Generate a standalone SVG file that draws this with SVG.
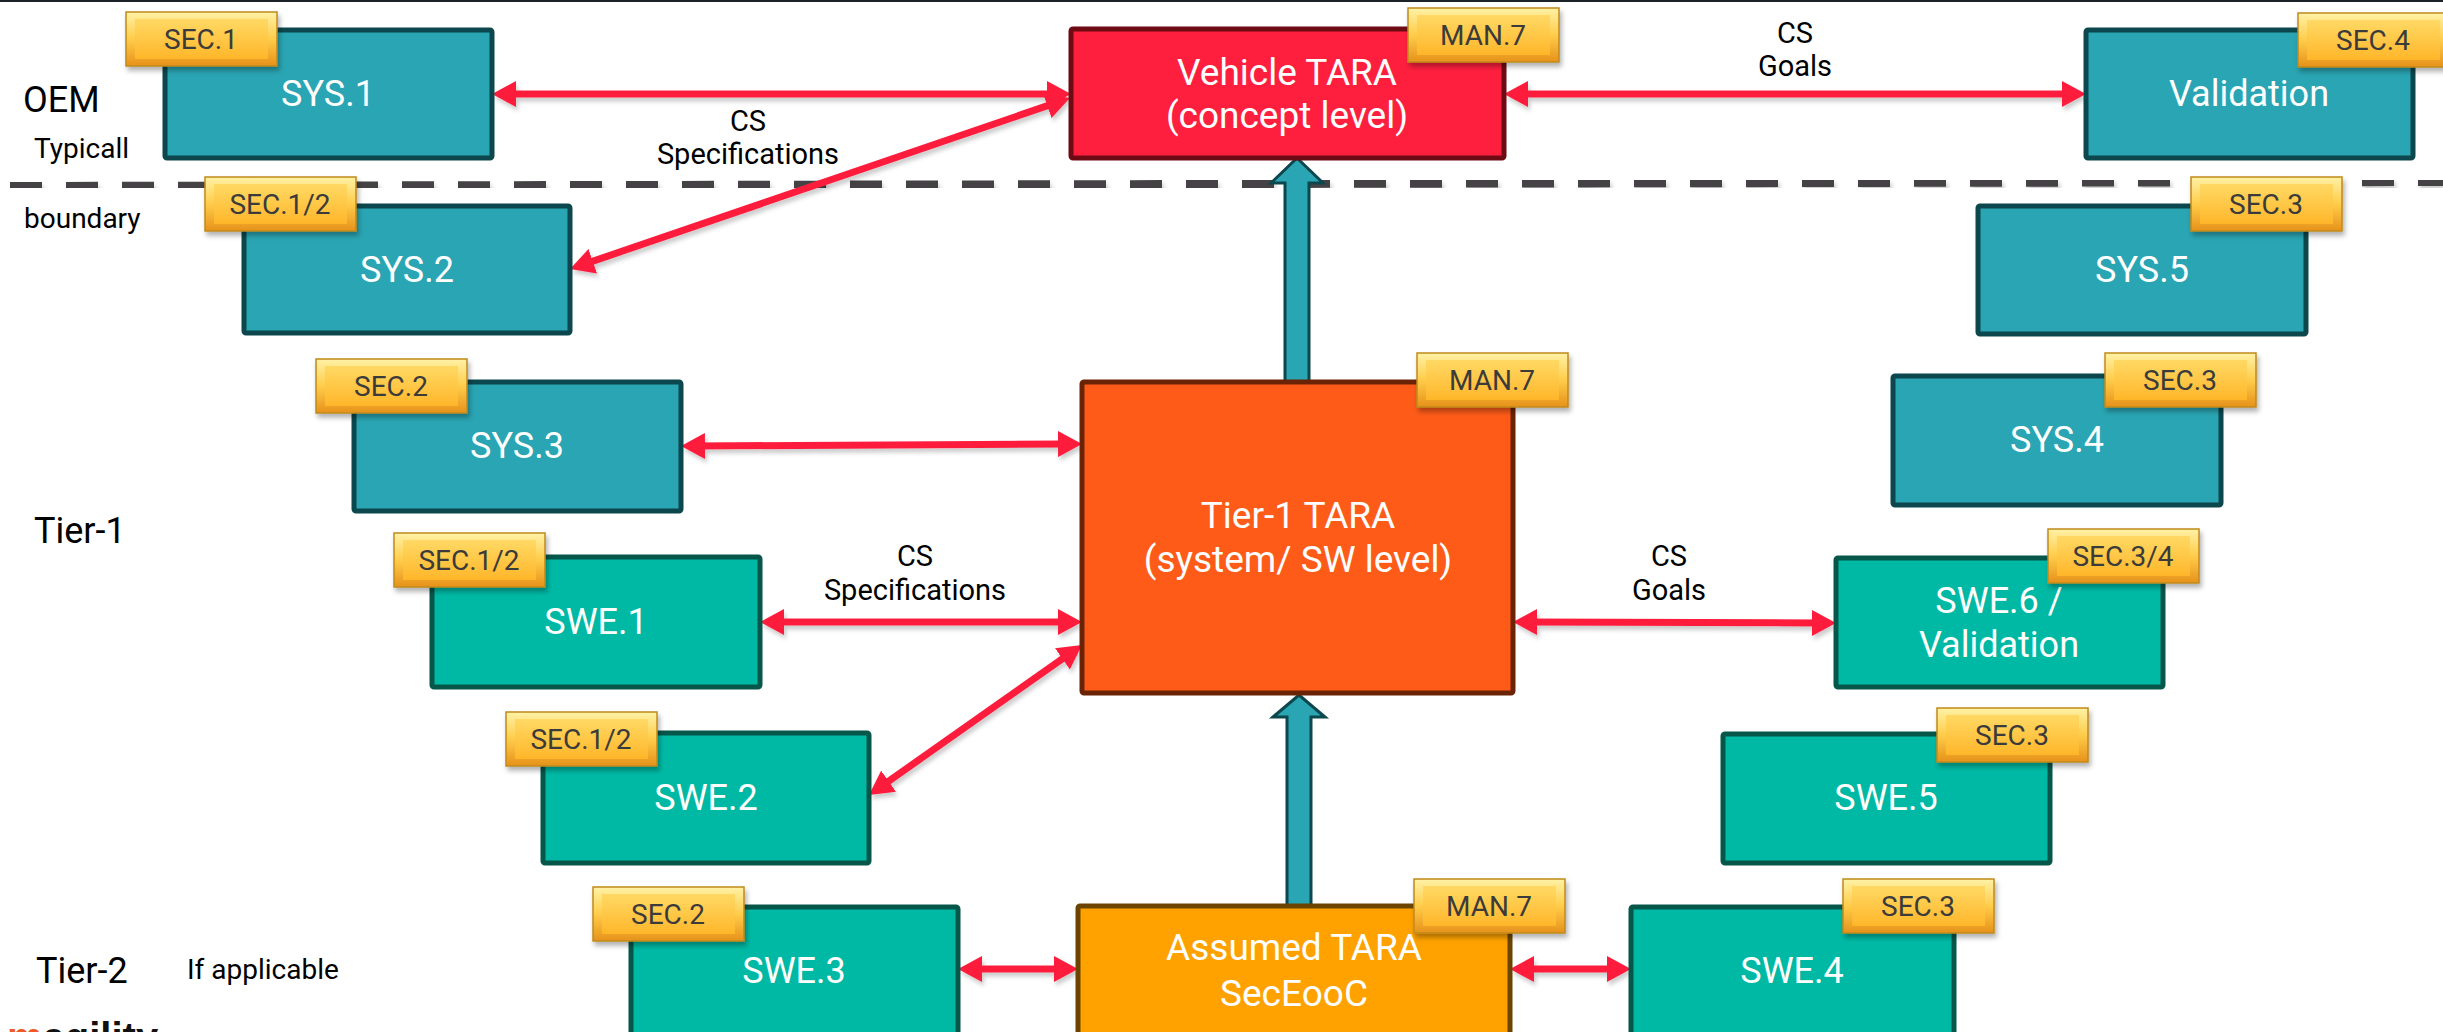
<svg xmlns="http://www.w3.org/2000/svg" width="2443" height="1032" viewBox="0 0 2443 1032">
<style>
  text { font-family: Roboto, "Liberation Sans", sans-serif; }
  .sys { fill: #2aa5b3; stroke: #0c474d; stroke-width: 5; }
  .swe { fill: #00b9a4; stroke: #07564a; stroke-width: 5; }
  .lbl { fill: #ffffff; font-size: 36px; text-anchor: middle; }
  .big { fill: #ffffff; font-size: 37px; text-anchor: middle; }
  .bt { fill: #3b3b3b; font-size: 28px; text-anchor: middle; }
  .side { fill: #000000; font-size: 29px; text-anchor: middle; }
  .tier { fill: #000000; font-size: 36px; }
  .note { fill: #000000; font-size: 28px; }
  .red { stroke: #fe1f3e; stroke-width: 7; fill: none; marker-start: url(#ah); marker-end: url(#ah); }
  .thick { fill: #2aa5b3; stroke: #0c474d; stroke-width: 3; stroke-linejoin: miter; }
  .bo { fill: url(#gOuter); stroke: #c08a1c; stroke-width: 1.5; }
  .bi { fill: url(#gInner); }
</style>
<defs>
  <linearGradient id="gOuter" x1="0" y1="0" x2="0" y2="1">
    <stop offset="0" stop-color="#fff2a6"/>
    <stop offset="0.5" stop-color="#ffcc4a"/>
    <stop offset="1" stop-color="#e6921a"/>
  </linearGradient>
  <linearGradient id="gInner" x1="0" y1="0" x2="0" y2="1">
    <stop offset="0" stop-color="#ffd964"/>
    <stop offset="1" stop-color="#ffb62a"/>
  </linearGradient>
  <filter id="sh" x="-10%" y="-30%" width="130%" height="180%">
    <feDropShadow dx="2" dy="4" stdDeviation="2.5" flood-color="#000" flood-opacity="0.3"/>
  </filter>
  <filter id="ash" x="-5%" y="-50%" width="110%" height="200%">
    <feDropShadow dx="2" dy="4" stdDeviation="2" flood-color="#000" flood-opacity="0.2"/>
  </filter>
  <marker id="ah" viewBox="0 -13 24 26" refX="12" refY="0" markerWidth="24" markerHeight="26" markerUnits="userSpaceOnUse" orient="auto-start-reverse">
    <path d="M0,-13 L24,0 L0,13 z" fill="#fe1f3e"/>
  </marker>
  <symbol id="badge" viewBox="0 0 151 54" overflow="visible">
    <rect class="bo" x="0" y="0" width="151" height="54"/>
    <rect class="bi" x="9" y="7" width="133" height="40"/>
  </symbol>
</defs>

<rect x="0" y="0" width="2443" height="1032" fill="#ffffff"/>
<line x1="0" y1="1" x2="2443" y2="1" stroke="#1c2328" stroke-width="2"/>

<!-- boundary dashed line -->
<g id="boundary" filter="url(#ash)">
  <line x1="10" y1="186" x2="2443" y2="182" stroke="#444244" stroke-width="8" stroke-dasharray="32 24"/>
</g>

<!-- side labels -->
<g id="labels">
  <text class="tier" x="23" y="112">OEM</text>
  <text class="note" x="34" y="158">Typicall</text>
  <text class="note" x="24" y="228">boundary</text>
  <text class="tier" x="34" y="543">Tier-1</text>
  <text class="tier" x="36" y="983">Tier-2</text>
  <text class="note" x="187" y="979">If applicable</text>
  <text x="7" y="1051" font-size="40" font-weight="bold" style="font-family:'Liberation Sans', Arial, sans-serif"><tspan fill="#f05a28">m</tspan><tspan fill="#111">agility</tspan></text>
</g>

<!-- connectors -->
<g id="connectors">
  <g filter="url(#ash)">
    <line class="red" x1="504" y1="94" x2="1059" y2="94"/>
    <line class="red" x1="581.4" y1="265.1" x2="1058.6" y2="101.9"/>
    <line class="red" x1="1516" y1="94" x2="2074" y2="94"/>
    <line class="red" x1="693" y1="446" x2="1070" y2="444"/>
    <line class="red" x1="772" y1="622" x2="1070" y2="622"/>
    <line class="red" x1="878.8" y1="788.1" x2="1072.2" y2="651.9"/>
    <line class="red" x1="1525" y1="622" x2="1824" y2="623"/>
    <line class="red" x1="970" y1="969" x2="1066" y2="969"/>
    <line class="red" x1="1522" y1="969" x2="1619" y2="969"/>
  </g>
  <polygon class="thick" points="1285,382 1285,183 1271,183 1297,158 1323,183 1309,183 1309,382"/>
  <polygon class="thick" points="1287,906 1287,717 1273,717 1299,695 1325,717 1311,717 1311,906"/>
  <text class="side" x="748" y="131">CS</text>
  <text class="side" x="748" y="164">Specifications</text>
  <text class="side" x="1795" y="43">CS</text>
  <text class="side" x="1795" y="76">Goals</text>
  <text class="side" x="915" y="566">CS</text>
  <text class="side" x="915" y="600">Specifications</text>
  <text class="side" x="1669" y="566">CS</text>
  <text class="side" x="1669" y="600">Goals</text>
</g>

<!-- left side nodes -->
<g id="sys1">
  <rect class="sys" x="165" y="30" width="327" height="128" rx="2"/>
  <text class="lbl" x="328" y="106">SYS.1</text>
  <g filter="url(#sh)"><use href="#badge" x="126" y="12" width="151" height="54"/></g>
  <text class="bt" x="201" y="49">SEC.1</text>
</g>
<g id="sys2">
  <rect class="sys" x="244" y="206" width="326" height="127" rx="2"/>
  <text class="lbl" x="407" y="282">SYS.2</text>
  <g filter="url(#sh)"><use href="#badge" x="205" y="177" width="151" height="54"/></g>
  <text class="bt" x="280" y="214">SEC.1/2</text>
</g>
<g id="sys3">
  <rect class="sys" x="354" y="382" width="327" height="129" rx="2"/>
  <text class="lbl" x="517" y="458">SYS.3</text>
  <g filter="url(#sh)"><use href="#badge" x="316" y="359" width="151" height="54"/></g>
  <text class="bt" x="391" y="396">SEC.2</text>
</g>
<g id="swe1">
  <rect class="swe" x="432" y="557" width="328" height="130" rx="2"/>
  <text class="lbl" x="596" y="634">SWE.1</text>
  <g filter="url(#sh)"><use href="#badge" x="394" y="533" width="151" height="54"/></g>
  <text class="bt" x="469" y="570">SEC.1/2</text>
</g>
<g id="swe2">
  <rect class="swe" x="543" y="733" width="326" height="130" rx="2"/>
  <text class="lbl" x="706" y="810">SWE.2</text>
  <g filter="url(#sh)"><use href="#badge" x="506" y="712" width="151" height="54"/></g>
  <text class="bt" x="581" y="749">SEC.1/2</text>
</g>
<g id="swe3">
  <rect class="swe" x="631" y="907" width="327" height="140" rx="2"/>
  <text class="lbl" x="794" y="983">SWE.3</text>
  <g filter="url(#sh)"><use href="#badge" x="593" y="887" width="151" height="54"/></g>
  <text class="bt" x="668" y="924">SEC.2</text>
</g>

<!-- centre nodes -->
<g id="vehicle-tara">
  <rect x="1071" y="29" width="433" height="129" rx="2" fill="#fe1f3e" stroke="#6d0a14" stroke-width="5"/>
  <text class="big" x="1287" y="85">Vehicle TARA</text>
  <text class="big" x="1287" y="128">(concept level)</text>
  <g filter="url(#sh)"><use href="#badge" x="1408" y="8" width="151" height="54"/></g>
  <text class="bt" x="1483" y="45">MAN.7</text>
</g>
<g id="tier1-tara">
  <rect x="1082" y="382" width="431" height="311" rx="2" fill="#fe5b19" stroke="#6b2306" stroke-width="5"/>
  <text class="big" x="1298" y="528">Tier-1 TARA</text>
  <text class="big" x="1298" y="572">(system/ SW level)</text>
  <g filter="url(#sh)"><use href="#badge" x="1417" y="353" width="151" height="54"/></g>
  <text class="bt" x="1492" y="390">MAN.7</text>
</g>
<g id="assumed-tara">
  <rect x="1078" y="906" width="432" height="140" rx="2" fill="#ffa200" stroke="#6b4500" stroke-width="5"/>
  <text class="big" x="1294" y="960">Assumed TARA</text>
  <text class="big" x="1294" y="1006">SecEooC</text>
  <g filter="url(#sh)"><use href="#badge" x="1414" y="879" width="151" height="54"/></g>
  <text class="bt" x="1489" y="916">MAN.7</text>
</g>

<!-- right side nodes -->
<g id="validation">
  <rect class="sys" x="2086" y="30" width="327" height="128" rx="2"/>
  <text class="lbl" x="2249" y="106">Validation</text>
  <g filter="url(#sh)"><use href="#badge" x="2298" y="13" width="151" height="54"/></g>
  <text class="bt" x="2373" y="50">SEC.4</text>
</g>
<g id="sys5">
  <rect class="sys" x="1978" y="206" width="328" height="128" rx="2"/>
  <text class="lbl" x="2142" y="282">SYS.5</text>
  <g filter="url(#sh)"><use href="#badge" x="2191" y="177" width="151" height="54"/></g>
  <text class="bt" x="2266" y="214">SEC.3</text>
</g>
<g id="sys4">
  <rect class="sys" x="1893" y="376" width="328" height="129" rx="2"/>
  <text class="lbl" x="2057" y="452">SYS.4</text>
  <g filter="url(#sh)"><use href="#badge" x="2105" y="353" width="151" height="54"/></g>
  <text class="bt" x="2180" y="390">SEC.3</text>
</g>
<g id="swe6">
  <rect class="swe" x="1836" y="558" width="327" height="129" rx="2"/>
  <text class="lbl" x="1999" y="613">SWE.6 /</text>
  <text class="lbl" x="1999" y="657">Validation</text>
  <g filter="url(#sh)"><use href="#badge" x="2048" y="529" width="151" height="54"/></g>
  <text class="bt" x="2123" y="566">SEC.3/4</text>
</g>
<g id="swe5">
  <rect class="swe" x="1723" y="734" width="327" height="129" rx="2"/>
  <text class="lbl" x="1886" y="810">SWE.5</text>
  <g filter="url(#sh)"><use href="#badge" x="1937" y="708" width="151" height="54"/></g>
  <text class="bt" x="2012" y="745">SEC.3</text>
</g>
<g id="swe4">
  <rect class="swe" x="1631" y="907" width="323" height="140" rx="2"/>
  <text class="lbl" x="1792" y="983">SWE.4</text>
  <g filter="url(#sh)"><use href="#badge" x="1843" y="879" width="151" height="54"/></g>
  <text class="bt" x="1918" y="916">SEC.3</text>
</g>
</svg>
